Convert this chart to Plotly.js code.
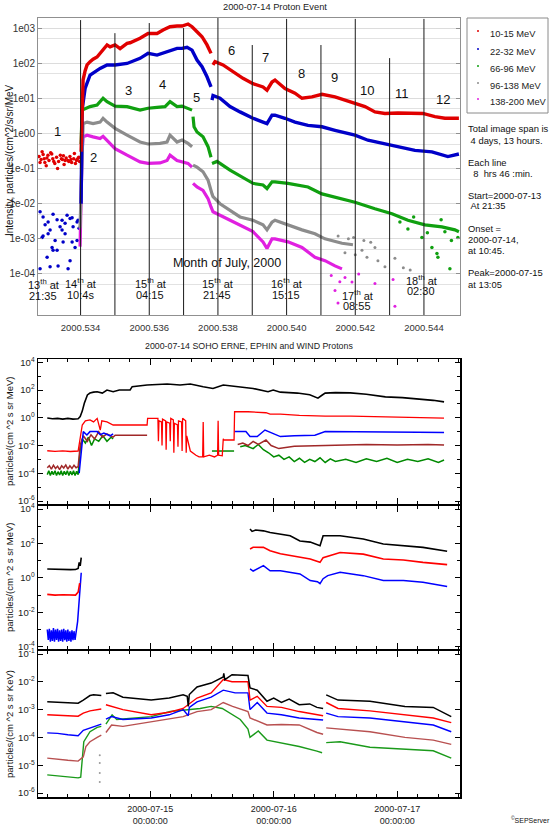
<!DOCTYPE html>
<html><head><meta charset="utf-8">
<script src="https://cdn.plot.ly/plotly-3.0.1.min.js"></script>
<style>html,body{margin:0;padding:0;background:#fff}#chart{width:550px;height:826px}</style>
</head><body><div id="chart"></div>
<script>
// ================= DATA =================
// --- Top panel: decimal year vs proton intensity (particles/(cm^2 s sr MeV))
const topXTicks = [2000.534, 2000.536, 2000.538, 2000.540, 2000.542, 2000.544];
const topYTicks = [1e3, 1e2, 1e1, 1e0, 1e-1, 1e-2, 1e-3, 1e-4];
const topYLabels = ['1e03', '1e02', '1e01', '1e00', '1e-01', '1e-02', '1e-03', '1e-04'];
const channels = ['10-15 MeV', '22-32 MeV', '66-96 MeV', '96-138 MeV', '138-200 MeV'];
const periodLines = [2000.534, 2000.535, 2000.536, 2000.537, 2000.538, 2000.539, 2000.540, 2000.541, 2000.542, 2000.543, 2000.544];
const periodNumbers = ['1','2','3','4','5','6','7','8','9','10','11','12'];
const periodTimes = [['13','21:35'],['14','10:4s'],['15','04:15'],['15','21:45'],['16','15:15'],['17','08:55'],['18','02:30']];

const redPre = [[2000.532790,0.22],[2000.532820,0.15],[2000.532850,0.18],[2000.532880,0.30],[2000.532910,0.25],[2000.532940,0.19],[2000.532960,0.15],[2000.533000,0.12],[2000.533020,0.20],[2000.533050,0.24],[2000.533080,0.17],[2000.533130,0.28],[2000.533160,0.26],[2000.533190,0.19],[2000.533220,0.16],[2000.533250,0.14],[2000.533300,0.21],[2000.533330,0.10],[2000.533360,0.16],[2000.533410,0.24],[2000.533440,0.19],[2000.533470,0.18],[2000.533500,0.23],[2000.533520,0.13],[2000.533550,0.17],[2000.533580,0.20],[2000.533630,0.17],[2000.533660,0.16],[2000.533690,0.22],[2000.533720,0.18],[2000.533740,0.15],[2000.533800,0.19],[2000.533820,0.27],[2000.533850,0.14],[2000.533880,0.17],[2000.533900,0.18],[2000.533930,0.20],[2000.533950,0.21],[2000.533970,0.16]];
const red10 = [[2000.534015,0.3],[2000.534044,2],[2000.534073,33],[2000.534131,60],[2000.534189,89],[2000.534277,110],[2000.534364,130],[2000.534480,150],[2000.534568,190],[2000.534655,235],[2000.534771,330],[2000.534859,290],[2000.535004,330],[2000.535150,260],[2000.535354,365],[2000.535441,380],[2000.535732,510],[2000.535965,700],[2000.536227,700],[2000.536402,880],[2000.536605,1090],[2000.536809,1140],[2000.536955,1140],[2000.537129,1300],[2000.537246,1090],[2000.537391,785],[2000.537537,565],[2000.537682,330],[2000.537799,190],[2000.537820,null],[2000.537857,89],[2000.537915,110],[2000.538148,89],[2000.538439,57],[2000.538643,41],[2000.538730,37],[2000.539021,26],[2000.539313,21],[2000.539429,17],[2000.539575,29],[2000.539662,33],[2000.539953,19],[2000.540244,14],[2000.540448,10],[2000.540739,11],[2000.541030,13],[2000.541409,11],[2000.541700,8.9],[2000.541991,7.2],[2000.542282,5.8],[2000.542573,4.1],[2000.542864,3.7],[2000.543242,3.8],[2000.543737,3.7],[2000.543970,3.7],[2000.544319,3.0],[2000.544610,2.7],[2000.545018,2.7]];
const bluePre = [[2000.532821,5.9e-3],[2000.532908,4.2e-3],[2000.533054,3e-3],[2000.533112,1.8e-3],[2000.533199,5e-3],[2000.533258,9e-4],[2000.533316,4.7e-4],[2000.533403,2.2e-3],[2000.533461,3.4e-3],[2000.533549,1.4e-3],[2000.533607,4.7e-3],[2000.533694,3.8e-3],[2000.533753,8.2e-4],[2000.533782,2.2e-3],[2000.533898,3e-3],[2000.533927,3.4e-3],[2000.533025,3e-4],[2000.533112,1.6e-4],[2000.532879,1.1e-3],[2000.533345,1.7e-4],[2000.533636,1.4e-4],[2000.533694,2.4e-4],[2000.532908,1.2e-3],[2000.533170,5.7e-4],[2000.533491,8.2e-4],[2000.533840,5.7e-4],[2000.533199,4.7e-4],[2000.532821,1.4e-4],[2000.533054,1.4e-3],[2000.533461,1.8e-3],[2000.533898,9e-4],[2000.532967,2.5e-3],[2000.533316,3.5e-3],[2000.533549,2.8e-3],[2000.533753,4e-3],[2000.533956,2e-3]];
const blue22 = [[2000.534015,0.01],[2000.534044,4.6],[2000.534131,19],[2000.534277,46],[2000.534568,71],[2000.534771,89],[2000.535004,89],[2000.535354,98],[2000.535732,137],[2000.535965,190],[2000.536227,170],[2000.536518,210],[2000.536809,263],[2000.536955,263],[2000.537100,283],[2000.537246,235],[2000.537391,123],[2000.537537,79],[2000.537682,41],[2000.537799,21],[2000.537815,null],[2000.537828,8.9],[2000.537857,12],[2000.538061,10],[2000.538352,5.8],[2000.538643,4.1],[2000.539021,2.7],[2000.539313,2.1],[2000.539429,1.9],[2000.539575,3.3],[2000.539662,3.3],[2000.539953,2.7],[2000.540244,2.1],[2000.540623,1.7],[2000.541030,1.55],[2000.541409,1.23],[2000.541991,0.89],[2000.542369,0.64],[2000.542777,0.52],[2000.543242,0.42],[2000.543737,0.33],[2000.544232,0.3],[2000.544697,0.22],[2000.545018,0.26]];
const green66 = [[2000.534015,0.5],[2000.534044,4.6],[2000.534277,5.8],[2000.534480,6.4],[2000.534655,10],[2000.534771,8],[2000.535004,6],[2000.535354,5.8],[2000.535732,4.6],[2000.535965,5.2],[2000.536227,5.5],[2000.536460,5.8],[2000.536605,8],[2000.536809,5.8],[2000.536955,6],[2000.537100,5.2],[2000.537246,4.6],[2000.537260,null],[2000.537275,3.0],[2000.537304,1.55],[2000.537391,1.1],[2000.537566,0.8],[2000.537712,0.42],[2000.537799,0.21],[2000.537815,null],[2000.537828,0.14],[2000.537973,0.16],[2000.538352,0.09],[2000.538730,0.057],[2000.539021,0.038],[2000.539313,0.034],[2000.539429,0.027],[2000.539575,0.042],[2000.539662,0.042],[2000.540040,0.038],[2000.540623,0.03],[2000.541030,0.019],[2000.541613,0.014],[2000.541991,0.011],[2000.542573,0.0072],[2000.543068,0.0052],[2000.543533,0.0034],[2000.544028,0.0025],[2000.544523,0.0022],[2000.544901,0.0018],[2000.545018,0.0016]];
const greenScatter = [[2000.543533,0.0019],[2000.543941,0.0011],[2000.544378,3.8e-4],[2000.544407,3e-4],[2000.544756,1.4e-4],[2000.544988,0.0011],[2000.544232,5.7e-4],[2000.544610,0.0016],[2000.543300,0.003],[2000.543700,0.0042],[2000.544100,0.0015],[2000.544800,0.0009],[2000.544500,0.0035]];
const gray96 = [[2000.533985,2e-3],[2000.534044,0.5],[2000.534073,1.9],[2000.534189,2.1],[2000.534364,1.9],[2000.534568,2.1],[2000.534655,2.7],[2000.534771,2.1],[2000.535004,1.4],[2000.535354,0.89],[2000.535732,0.57],[2000.535965,0.5],[2000.536314,0.52],[2000.536518,0.57],[2000.536605,0.89],[2000.536809,0.57],[2000.536955,0.65],[2000.537129,0.52],[2000.537246,0.42],[2000.537260,null],[2000.537275,0.126],[2000.537391,0.11],[2000.537566,0.081],[2000.537712,0.047],[2000.537828,0.019],[2000.537857,0.016],[2000.538061,0.01],[2000.538352,0.0065],[2000.538643,0.0042],[2000.539021,0.0034],[2000.539313,0.0025],[2000.539429,0.0018],[2000.539575,0.003],[2000.539662,0.0034],[2000.540040,0.0025],[2000.540448,0.0018],[2000.540826,0.0014],[2000.541118,0.001],[2000.541613,7.5e-4],[2000.541933,6.8e-4]];
const grayScatter = [[2000.542195,4.7e-4],[2000.542340,3e-4],[2000.542573,5.7e-4],[2000.542660,2.4e-4],[2000.542864,1.6e-4],[2000.543155,2.8e-4],[2000.541700,4e-4],[2000.541500,1.2e-3],[2000.541800,1e-3],[2000.542000,3.5e-4],[2000.542450,8e-4],[2000.543400,1.5e-4],[2000.543600,1.3e-4],[2000.541950,1.1e-3],[2000.542250,9e-4]];
const mag138 = [[2000.533985,6e-4],[2000.534015,0.02],[2000.534044,0.3],[2000.534073,0.8],[2000.534189,0.89],[2000.534364,0.8],[2000.534568,0.72],[2000.534655,0.83],[2000.534859,0.52],[2000.535004,0.37],[2000.535354,0.24],[2000.535732,0.155],[2000.535965,0.14],[2000.536314,0.145],[2000.536518,0.17],[2000.536605,0.24],[2000.536809,0.17],[2000.536955,0.155],[2000.537129,0.14],[2000.537246,0.11],[2000.537260,null],[2000.537275,0.038],[2000.537391,0.03],[2000.537566,0.024],[2000.537712,0.014],[2000.537799,0.0081],[2000.537857,0.0059],[2000.538061,0.0047],[2000.538352,0.0034],[2000.538643,0.0025],[2000.539021,0.0016],[2000.539313,8.2e-4],[2000.539429,5.3e-4],[2000.539575,0.001],[2000.539662,0.001],[2000.540040,8.2e-4],[2000.540448,5.7e-4],[2000.540826,3e-4],[2000.541118,2.4e-4],[2000.541409,1.7e-4],[2000.541613,1.4e-4]];
const magScatter = [[2000.541409,3.4e-5],[2000.541496,1.5e-5],[2000.541904,5.9e-5],[2000.542573,5.4e-5],[2000.543155,1.2e-5],[2000.541700,8e-5],[2000.541300,9e-5],[2000.541550,6e-5],[2000.542100,1e-4],[2000.543100,7e-5]];

// --- Lower panels: hours since 2000-07-14 00:00 vs flux
const dayTicks = [24, 48, 72];
const dayLabels = ['2000-07-15<br>00:00:00', '2000-07-16<br>00:00:00', '2000-07-17<br>00:00:00'];
// ERNE panel (per MeV)
const erneBlack = [[4,0.95],[5,0.85],[6,0.9],[7,0.8],[8,0.9],[9,0.8],[10,0.85],[10.4,1.2],[10.8,3],[11.2,11],[11.8,44],[12.3,60],[13,70],[13.7,75],[14.7,60],[15.6,100],[16.8,75],[18,100],[20.1,100],[20.5,173],[23.4,230],[27.3,270],[29.8,230],[31.8,270],[34.3,173],[36.2,130],[38.2,230],[40.9,173],[44,130],[46.9,75],[47.9,100],[49.3,70],[52.6,60],[55,45],[56.6,26],[57.3,40],[58,60],[60,65],[62.9,62],[66,50],[69.7,32],[73,28],[76.5,22],[79,18],[81.1,14]];
const erneRed = [[4,0.0042],[5.5,0.0038],[7,0.0041],[8.5,0.0037],[10,0.004],[10.4,0.03],[10.8,0.3],[11.4,0.6],[12.3,0.7],[13,0.5],[13.7,0.9],[14.3,0.13],[14.6,0.6],[15.6,0.5],[16.8,0.3],[17.2,0.3],[23.4,0.3],[23.5,0.9],[25.5,0.9],[25.6,0.02],[25.7,0.6],[26.2,0.5],[26.3,0.01],[26.4,0.8],[27,0.6],[27.1,0.005],[27.2,0.5],[27.8,0.4],[27.9,0.02],[28,0.9],[28.5,0.7],[28.6,0.003],[28.7,0.4],[29.3,0.3],[29.4,0.008],[29.5,0.6],[30.1,0.5],[30.2,0.004],[30.3,0.9],[30.9,0.6],[31,0.003],[31.1,0.05],[31.8,0.004],[32.9,0.002],[33.5,0.0015],[34.2,0.0015],[34.3,0.5],[34.4,0.0015],[35.5,0.002],[36.5,0.0015],[37.1,0.002],[37.2,0.6],[37.3,0.002],[38,0.0018],[38.2,0.03],[38.3,0.025],[40.3,0.025],[40.4,2.7],[43,2.7],[44,2.5],[46.5,2.3],[47.3,1.8],[49.3,1.8],[53,1.5],[58,1.3],[63,1.3],[70,1.2],[76,1.05],[81.1,0.95]];
const erneBlue = [[10.2,1e-4],[10.6,0.003],[11,0.1],[11.7,0.057],[12.3,0.1],[13.7,0.1],[14.3,0.06],[15,0.08],[16.2,0.05],[16.8,0.07],[20,null],[40.4,0.1],[42.6,0.1],[43.4,0.044],[44.8,0.044],[46.3,0.13],[47.9,0.07],[49.3,0.044],[52,0.05],[56,0.055],[58,0.1],[62,0.1],[70,0.1],[76,0.09],[81.1,0.085]];
const erneBrown = [[4,2.5e-4],[4.4,3.5e-4],[4.8,2e-4],[5.2,3.8e-4],[5.6,2.2e-4],[6,3.2e-4],[6.4,1.8e-4],[6.8,3.5e-4],[7.2,2.4e-4],[7.6,4e-4],[8,2e-4],[8.4,3.4e-4],[8.8,2.2e-4],[9.2,3.8e-4],[9.6,2.5e-4],[10,3e-4],[10.4,0.01],[11,0.05],[11.8,0.02],[12.5,0.06],[13.2,0.03],[14,0.1],[14.7,0.04],[15.6,0.07],[16.8,0.04],[17.2,0.055],[23.4,0.055],[30,null],[41,0.012],[42,0.015],[43,0.01],[44,0.02],[45,0.012],[46.5,0.025],[47.5,0.01],[49,0.006],[52,0.009],[56,0.01],[60,0.011],[66,0.012],[72,0.011],[78,0.012],[81.1,0.011]];
const erneGreen = [[4,8e-5],[4.3,1.5e-4],[4.6,7e-5],[4.9,1.4e-4],[5.2,8e-5],[5.5,1.5e-4],[5.8,7e-5],[6.1,1.3e-4],[6.4,7.5e-5],[6.7,1.5e-4],[7,7e-5],[7.3,1.4e-4],[7.6,8e-5],[7.9,1.5e-4],[8.2,7e-5],[8.5,1.4e-4],[8.8,7.5e-5],[9.1,1.5e-4],[9.4,7e-5],[9.7,1.4e-4],[10,8e-5],[10.4,0.005],[10.8,0.03],[11.4,0.015],[12,0.04],[12.6,0.01],[13.2,0.03],[14,0.02],[14.8,0.05],[15.6,0.02],[16.4,0.04],[16.8,0.03],[25,null],[36,0.004],[40.3,0.004],[41,null],[41.5,0.008],[42.5,0.01],[44,0.006],[45,0.012],[46,0.005],[47,0.003],[48,0.0015],[49,0.002],[50,0.001],[51,0.0015],[52,0.0007],[53,0.0012],[54,0.0006],[55,0.001],[56,0.0007],[57,0.0013],[58,0.0006],[59,0.0011],[60,0.0007],[62,0.001],[64,0.0006],[66,0.0011],[68,0.0007],[70,0.0012],[72,0.0006],[74,0.001],[76,0.0007],[78,0.0011],[80,0.0006],[81.1,0.0009]];
// EPHIN panel (per MeV)
const ephBlack = [[4,3.3],[5.5,3.1],[7,3.2],[8.5,3.0],[9.5,3.1],[10,3.5],[10.2,8],[10.4,5],[10.6,15],[20,null],[43.4,700],[43.8,500],[44.5,600],[46,540],[47.3,430],[49.3,350],[51.2,280],[53.1,140],[55.1,120],[57,74],[57.6,280],[60.9,280],[65.4,180],[69.3,92],[73.2,74],[77,59],[81.7,35]];
const ephRed = [[4,0.11],[5.5,0.1],[7,0.105],[8.5,0.1],[9.5,0.1],[10,0.15],[10.3,0.5],[20,null],[43.4,48],[44,60],[46,59],[47.3,38],[49.3,25],[51.2,20],[53.1,15],[55.1,12.5],[57,8],[57.6,15],[60.9,30],[65.4,24],[69.3,12.5],[73.2,11],[77,8],[81.7,5.9]];
const ephBlue = [[4,1e-3],[4.2,2.5e-4],[4.4,1.1e-3],[4.6,2e-4],[4.8,9e-4],[5,2.2e-4],[5.2,1.2e-3],[5.4,2e-4],[5.6,1e-3],[5.8,2.5e-4],[6,1.1e-3],[6.2,2e-4],[6.4,9e-4],[6.6,2.2e-4],[6.8,1e-3],[7,2e-4],[7.2,1.1e-3],[7.4,2.4e-4],[7.6,9e-4],[7.8,2e-4],[8,1e-3],[8.2,2.2e-4],[8.4,8e-4],[8.6,2e-4],[8.8,9e-4],[9,2.4e-4],[9.2,8e-4],[9.4,2.5e-4],[9.9,0.003],[10.2,0.05],[10.6,2],[20,null],[43.4,3.3],[44,2.5],[46,5.1],[47.3,2.6],[49.3,2.6],[51.2,2.1],[53.1,1.7],[55.1,0.7],[56.5,0.6],[57,0.46],[57.6,0.9],[58.5,1.35],[60.9,2.1],[65.4,1.35],[69.3,0.7],[73.2,0.7],[77,0.56],[81.7,0.32]];
// WIND panel (per keV)
const windBlack = [[4,1.9e-3],[6,1.8e-3],[8,1.7e-3],[10,1.7e-3],[11,2.2e-3],[12.3,3.2e-3],[13,3.4e-3],[14,3.3e-3],[14.5,3.2e-3],[15,null],[15.4,3.8e-3],[16.8,4e-3],[18.7,2.8e-3],[24.2,2.2e-3],[27.7,2.6e-3],[30.4,3.4e-3],[31.2,3e-3],[31.4,1.3e-3],[31.6,3.5e-3],[33.1,6.5e-3],[35.85,9e-3],[38.2,0.015],[38.3,0.02],[38.5,0.012],[39.9,0.018],[43,0.017],[43.2,0.01],[43.4,6e-3],[44.8,5e-3],[45.5,3.5e-3],[46.7,2e-3],[48,2.6e-3],[49.5,1.8e-3],[51,2.4e-3],[52.95,1.5e-3],[55,1.6e-3],[56.4,1.2e-3],[57.6,1.1e-3],[57.9,null],[58.2,3.4e-3],[60.5,2.2e-3],[66.7,2e-3],[73.5,1.3e-3],[79,1.2e-3],[82.5,5.6e-4]];
const windRed = [[4,6.5e-4],[6,6.3e-4],[8,6e-4],[10,5.8e-4],[11,7.5e-4],[12.3,9e-4],[14.5,1.05e-3],[15,null],[15.4,1.5e-3],[18.7,1e-3],[24.2,6.5e-4],[27.7,8e-4],[30.4,1.1e-3],[33.1,2.6e-3],[35.85,4e-3],[38.2,0.012],[39.9,0.01],[43,0.01],[43.4,2.2e-3],[44.8,3e-3],[46.7,1.3e-3],[49.5,1.2e-3],[52.95,8.5e-4],[56.4,6.5e-4],[57.6,6e-4],[57.9,null],[58.2,1.8e-3],[60.5,1.1e-3],[66.7,9e-4],[73.5,6.5e-4],[79,5e-4],[82.5,3.4e-4]];
const windBlue = [[4,1.45e-4],[6,1.4e-4],[8,1.25e-4],[10,1.15e-4],[11,1.8e-4],[12.3,2.2e-4],[13.7,2.8e-4],[14.5,3e-4],[15,null],[15.4,4.5e-4],[16.5,5.6e-4],[18.7,4.4e-4],[24.2,5e-4],[27.7,6.5e-4],[30.4,1e-3],[31.4,6e-4],[31.6,1.2e-3],[33.1,1.9e-3],[35.85,2.8e-3],[38.2,5e-3],[40.5,4e-3],[43,4e-3],[43.4,1e-3],[44.8,1.8e-3],[46.7,7.5e-4],[49.5,6.5e-4],[52.95,5e-4],[56.4,4.4e-4],[57.6,4.2e-4],[57.9,null],[58.2,7.5e-4],[60.5,5.6e-4],[66.7,5e-4],[73.5,3.7e-4],[79,2.8e-4],[82.5,1.6e-4]];
const windBrown = [[4,1.8e-5],[6,1.6e-5],[8,1.5e-5],[10,1.4e-5],[11,2e-5],[11.5,4.7e-5],[12.3,7e-5],[13.7,1e-4],[14.5,1.2e-4],[15,null],[15.4,1.5e-4],[16.5,2.8e-4],[18.7,2.5e-4],[24.2,3.7e-4],[30.4,5.6e-4],[33.1,8.5e-4],[35.85,1e-3],[38.2,1.8e-3],[40,1.3e-3],[43,8.5e-4],[43.4,5e-4],[46.7,2.8e-4],[49.5,2.9e-4],[52.95,2.8e-4],[56.4,1.5e-4],[57.6,1.3e-4],[57.9,null],[58.2,2.2e-4],[60.5,2e-4],[66.7,1.6e-4],[73.5,1e-4],[79,8e-5],[82.5,5.6e-5]];
const windGreen = [[4,4.5e-6],[6,4.2e-6],[8,3.8e-6],[10,3.5e-6],[10.5,3.7e-6],[10.8,2e-5],[11.1,7e-5],[12.3,1.6e-4],[13.7,2.3e-4],[14.5,2.5e-4],[15,null],[15.4,3e-4],[16.6,6.5e-4],[17.5,4.4e-4],[24.2,5.6e-4],[27.9,8.5e-4],[33.7,1.1e-3],[35.85,1.3e-3],[38,1.1e-3],[41.5,4.4e-4],[43,2e-4],[43.4,1e-4],[45,1.7e-4],[46.7,8e-5],[49.3,6.5e-5],[52.95,4.7e-5],[56.4,3.2e-5],[57.4,2.8e-5],[57.9,null],[58.2,6.5e-5],[60.9,7e-5],[66.7,4.4e-5],[73.5,3.7e-5],[79,3.3e-5],[82.5,1.8e-5]];
const windDots = [[14.2,2.3e-5],[14.2,1.2e-5],[14.2,5.2e-6],[14.2,2.5e-6]];

// ================= BUILD =================
const FONT = 'Liberation Sans, Arial, sans-serif';
const xs = a => a.map(p => p[0]);
const ys = a => a.map(p => p[1]);
function line(a, color, w, xa, ya) {
  return {x: xs(a), y: ys(a), type: 'scatter', mode: 'lines', line: {color: color, width: w},
          xaxis: xa, yaxis: ya, showlegend: false, hoverinfo: 'skip', connectgaps: false};
}
function dots(a, color, s, xa, ya) {
  return {x: xs(a), y: ys(a), type: 'scatter', mode: 'markers', marker: {color: color, size: s},
          xaxis: xa, yaxis: ya, showlegend: false, hoverinfo: 'skip'};
}
const C = {red: '#e00000', blue: '#0000c8', green: '#10a010', gray: '#8c8c8c', mag: '#e020e0'};
const traces = [
  dots(redPre, C.red, 3.5, 'x', 'y'),
  dots(bluePre, C.blue, 3.5, 'x', 'y'),
  line(mag138, C.mag, 3.2, 'x', 'y'), dots(magScatter, C.mag, 3, 'x', 'y'),
  line(gray96, C.gray, 3.2, 'x', 'y'), dots(grayScatter, C.gray, 3, 'x', 'y'),
  line(green66, C.green, 3.2, 'x', 'y'), dots(greenScatter, C.green, 3.5, 'x', 'y'),
  line(blue22, C.blue, 3.4, 'x', 'y'),
  line(red10, C.red, 3.4, 'x', 'y'),
  // ERNE
  line(erneGreen, '#008a00', 1.5, 'x2', 'y2'), line(erneBrown, '#a02828', 1.5, 'x2', 'y2'),
  line(erneBlue, '#0000ff', 1.5, 'x2', 'y2'), line(erneRed, '#ff0000', 1.3, 'x2', 'y2'),
  line(erneBlack, '#000000', 1.6, 'x2', 'y2'),
  // EPHIN
  line(ephBlue, '#0000ff', 1.5, 'x3', 'y3'), line(ephRed, '#ff0000', 1.6, 'x3', 'y3'),
  line(ephBlack, '#000000', 1.6, 'x3', 'y3'),
  // WIND
  line(windGreen, '#1a9a1a', 1.4, 'x4', 'y4'), line(windBrown, '#b85050', 1.4, 'x4', 'y4'),
  line(windBlue, '#0000ff', 1.4, 'x4', 'y4'), line(windRed, '#ff0000', 1.4, 'x4', 'y4'),
  line(windBlack, '#000000', 1.5, 'x4', 'y4'), dots(windDots, '#999999', 2, 'x4', 'y4')
];

const W = 550, H = 826;
const px = v => v / W, py = v => 1 - v / H;
const dom = (a, b) => [py(b), py(a)];
const xDom = [px(38), px(460)];
const sup = s => '10<sup>' + s + '</sup>';

const lowX = (show) => ({
  domain: xDom, range: [2.2, 84.2], showline: true, linecolor: '#000', linewidth: 1.5, mirror: 'allticks',
  ticks: 'inside', ticklen: 6, tickcolor: '#000', tickvals: dayTicks, ticktext: dayLabels,
  showticklabels: show, showgrid: false, zeroline: false, ticklabelstandoff: 3,
  tickfont: {family: FONT, size: 9, color: '#222'},
  minor: {dtick: 4, tick0: 0, ticks: 'inside', ticklen: 3, tickcolor: '#000', showgrid: false}
});
const lowY = (d, range, vals, minorVals) => ({
  domain: d, type: 'log', range: range, showline: true, linecolor: '#000', linewidth: 1.5, mirror: 'allticks',
  ticks: 'inside', ticklen: 5, tickcolor: '#000', tickvals: vals,
  ticktext: vals.map(v => sup(String(Math.round(Math.log10(v))))), showgrid: false, zeroline: false,
  tickfont: {family: FONT, size: 9.5, color: '#222'},
  minor: {tickvals: minorVals, ticks: 'inside', ticklen: 3, tickcolor: '#000', showgrid: false}
});

const layout = {
  width: W, height: H, margin: {l: 0, r: 0, t: 0, b: 0}, paper_bgcolor: '#fff', plot_bgcolor: '#fff',
  showlegend: false, font: {family: FONT, color: '#222'},
  xaxis: {domain: xDom, range: [2000.53276, 2000.54505], tickvals: topXTicks,
          ticktext: topXTicks.map(v => v.toFixed(3)), showgrid: false, zeroline: false, showline: true,
          linecolor: '#909090', linewidth: 1, mirror: true, ticks: '', ticklabelstandoff: 4,
          tickfont: {family: FONT, size: 9.5, color: '#333'}},
  yaxis: {domain: dom(18, 315), type: 'log', range: [-5.167, 3.285], tickvals: topYTicks, ticktext: topYLabels,
          showgrid: true, gridcolor: '#dcdcdc', gridwidth: 1, zeroline: false, showline: true, linecolor: '#909090',
          mirror: 'ticks', ticks: 'inside', ticklen: 4, tickcolor: '#909090',
          tickfont: {family: FONT, size: 10, color: '#333'},
          minor: {tickvals: [500, 50, 5, 0.5, 0.05, 0.005, 5e-4, 5e-5], showgrid: true, gridcolor: '#e2e2e2', ticks: ''}},
  xaxis2: Object.assign(lowX(false), {anchor: 'y2'}),
  yaxis2: Object.assign(lowY(dom(359, 504), [-6.216, 4.234], [1e4, 1e2, 1, 1e-2, 1e-4, 1e-6], [1e3, 1e1, 1e-1, 1e-3, 1e-5]), {anchor: 'x2'}),
  xaxis3: Object.assign(lowX(false), {anchor: 'y3'}),
  yaxis3: Object.assign(lowY(dom(506, 649), [-4.13, 4.175], [1e4, 1e2, 1, 1e-2, 1e-4], [1e3, 1e1, 1e-1, 1e-3]), {anchor: 'x3'}),
  xaxis4: Object.assign(lowX(true), {anchor: 'y4'}),
  yaxis4: Object.assign(lowY(dom(651, 797), [-6.144, -0.892], [1e-1, 1e-2, 1e-3, 1e-4, 1e-5, 1e-6], []), {anchor: 'x4'}),
  shapes: [], annotations: []
};

// period boundary lines (top of each line as fraction of plot height)
const lineTops = [0.993, 0.949, 0.983, 0.966, 1, 0.909, 0.997, 0.909, 0.997, 0.865, 0.997];
periodLines.forEach((v, i) => layout.shapes.push({type: 'line', xref: 'x', yref: 'y domain', x0: v, x1: v, y0: 0, y1: lineTops[i],
  line: {color: '#1a1a1a', width: 1}}));

// legend box (drawn manually at the right)
layout.shapes.push({type: 'rect', xref: 'paper', yref: 'paper', x0: px(467), x1: px(548), y0: py(113), y1: py(18),
  line: {color: '#8a8a8a', width: 1}, fillcolor: 'rgba(0,0,0,0)'});
const legColors = [C.red, C.blue, C.green, C.gray, C.mag];
const legY = [34, 52, 69, 86, 102];
channels.forEach((c, i) => {
  layout.shapes.push({type: 'circle', xref: 'paper', yref: 'paper', x0: px(477), x1: px(479), y0: py(legY[i] - 4), y1: py(legY[i] - 2),
    line: {width: 0}, fillcolor: legColors[i]});
  layout.annotations.push({xref: 'paper', yref: 'paper', x: px(488), y: py(legY[i]), xanchor: 'left', yanchor: 'middle',
    text: c, showarrow: false, font: {family: FONT, size: 9.3, color: '#222'}});
});

const ann = (text, x, y, size, opts) => layout.annotations.push(Object.assign({xref: 'paper', yref: 'paper',
  x: px(x), y: py(y), text: text, showarrow: false, xanchor: 'center', yanchor: 'middle',
  font: {family: FONT, size: size, color: '#111'}}, opts || {}));

// titles
ann('2000-07-14 Proton Event', 275, 7, 9.5, {font: {family: FONT, size: 9.3, color: '#222'}});
ann('2000-07-14 SOHO ERNE, EPHIN and WIND Protons', 249, 346, 9, {font: {family: FONT, size: 8.8, color: '#222'}});
ann('Intensity, particles/(cm^2/s/sr/MeV', 9, 160, 10, {textangle: -90});
ann('particles/(cm ^2 s sr MeV)', 9, 431, 9.5, {textangle: -90});
ann('particles/(cm ^2 s sr MeV)', 9, 577, 9.5, {textangle: -90});
ann('particles/(cm ^2 s sr KeV)', 9, 724, 9.5, {textangle: -90});
ann('Month of July, 2000', 227, 263, 12.5);
ann('<sup>©</sup>SEPServer', 530, 819, 7);

// period numbers
const numPos = [[57,131],[93,157],[128,90],[162,85],[196,97],[231,51],[265,58],[301,73],[334,78],[367,90],[402,94],[443,99]];
periodNumbers.forEach((n, i) => ann(n, numPos[i][0], numPos[i][1], 13));

// period time labels
const timePos = [[43,284,296],[80,283,295],[150,283,295],[217,283,295],[286,283,295],[357,295,306],[421,280,291]];
periodTimes.forEach((t, i) => {
  ann(t[0] + '<sup>th</sup> at', timePos[i][0], timePos[i][1], 11);
  ann(t[1], timePos[i][0], timePos[i][2], 11);
});

// right-side notes
const notes = [['Total image span is',128],['&nbsp;4 days, 13 hours.',140],['Each line',162],['&nbsp;&nbsp;8&nbsp;&nbsp;hrs 46 :min.',174],
  ['Start=2000-07-13',195],['&nbsp;At 21:35',206],['Onset =',228],['2000-07-14,',240],['at 10:45.',251],
  ['Peak=2000-07-15',272],['at 13:05',284]];
notes.forEach(n => ann(n[0], 466, n[1], 9.4, {xanchor: 'left'}));

Plotly.newPlot('chart', traces, layout, {staticPlot: true});
</script>
</body></html>
